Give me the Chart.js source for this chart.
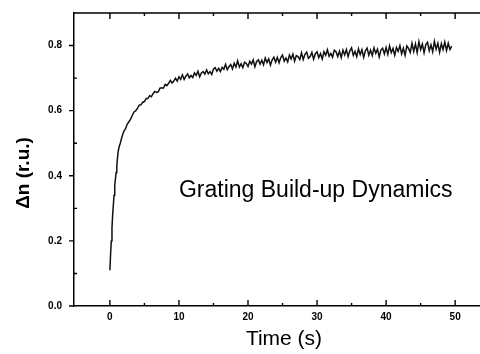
<!DOCTYPE html>
<html>
<head>
<meta charset="utf-8">
<script src="https://cdn.jsdelivr.net/npm/chart.js@4/dist/chart.umd.min.js"></script>
<style>
  html, body { margin: 0; padding: 0; background: #fff; }
  #wrap { width: 480px; height: 354px; }
</style>
</head>
<body>
<div id="wrap"><canvas id="growthChart"></canvas></div>
<script>
// time (s)
const times = [
  0, 0.1, 0.2, 0.3, 0.4, 0.5, 0.6, 0.7, 0.8, 0.9, 1.0, 1.1, 1.2, 1.35, 1.5, 1.75,
  2.0, 2.25, 2.5, 2.75, 3.0, 3.25, 3.5, 3.75, 4.0, 4.25, 4.5, 4.75,
  5.0, 5.25, 5.5, 5.75, 6.0, 6.25, 6.5, 6.75, 7.0, 7.25, 7.5, 7.75,
  8.0, 8.25, 8.5, 8.75, 9.0, 9.25, 9.5, 9.75,
  10.0, 10.25, 10.5, 10.75, 11.0, 11.25, 11.5, 11.75,
  12.0, 12.25, 12.5, 12.75, 13.0, 13.25, 13.5, 13.75,
  14.0, 14.25, 14.5, 14.75, 15.0, 15.25, 15.5, 15.75,
  16.0, 16.25, 16.5, 16.75, 17.0, 17.25, 17.5, 17.75,
  18.0, 18.25, 18.5, 18.75, 19.0, 19.25, 19.5, 19.75,
  20.0, 20.25, 20.5, 20.75, 21.0, 21.25, 21.5, 21.75,
  22.0, 22.25, 22.5, 22.75, 23.0, 23.25, 23.5, 23.75,
  24.0, 24.25, 24.5, 24.75, 25.0, 25.25, 25.5, 25.75,
  26.0, 26.25, 26.5, 26.75, 27.0, 27.25, 27.5, 27.75,
  28.0, 28.25, 28.5, 28.75, 29.0, 29.25, 29.5, 29.75,
  30.0, 30.25, 30.5, 30.75, 31.0, 31.25, 31.5, 31.75,
  32.0, 32.25, 32.5, 32.75, 33.0, 33.25, 33.5, 33.75,
  34.0, 34.25, 34.5, 34.75, 35.0, 35.25, 35.5, 35.75,
  36.0, 36.25, 36.5, 36.75, 37.0, 37.25, 37.5, 37.75,
  38.0, 38.25, 38.5, 38.75, 39.0, 39.25, 39.5, 39.75,
  40.0, 40.25, 40.5, 40.75, 41.0, 41.25, 41.5, 41.75,
  42.0, 42.25, 42.5, 42.75, 43.0, 43.25, 43.5, 43.75,
  44.0, 44.25, 44.5, 44.75, 45.0, 45.25, 45.5, 45.75,
  46.0, 46.25, 46.5, 46.75, 47.0, 47.25, 47.5, 47.75,
  48.0, 48.25, 48.5, 48.75, 49.0, 49.25, 49.5
];

// delta n (r.u.)
const deltaN = [
  0.11, 0.16, 0.20, 0.24, 0.28, 0.31, 0.34, 0.37, 0.39, 0.41, 0.43, 0.455, 0.475, 0.49, 0.50, 0.52,
  0.536, 0.544, 0.558, 0.566, 0.574, 0.586, 0.596, 0.600, 0.608, 0.617, 0.618, 0.626,
  0.628, 0.637, 0.637, 0.646, 0.643, 0.652, 0.659, 0.656, 0.658, 0.669, 0.670, 0.669,
  0.681, 0.677, 0.684, 0.693, 0.685, 0.691, 0.700, 0.691,
  0.704, 0.696, 0.710, 0.696, 0.706, 0.713, 0.701, 0.708,
  0.702, 0.716, 0.708, 0.721, 0.704, 0.716, 0.720, 0.712,
  0.725, 0.713, 0.720, 0.711, 0.728, 0.732, 0.721, 0.730,
  0.720, 0.733, 0.727, 0.742, 0.726, 0.735, 0.742, 0.728,
  0.746, 0.734, 0.753, 0.734, 0.744, 0.732, 0.749, 0.745,
  0.736, 0.752, 0.743, 0.756, 0.735, 0.751, 0.756, 0.743,
  0.755, 0.741, 0.762, 0.748, 0.759, 0.740, 0.756, 0.764,
  0.749, 0.764, 0.747, 0.763, 0.771, 0.752, 0.762, 0.750,
  0.771, 0.759, 0.774, 0.752, 0.769, 0.766, 0.757, 0.778,
  0.757, 0.773, 0.780, 0.761, 0.766, 0.779, 0.758, 0.775,
  0.781, 0.763, 0.775, 0.759, 0.781, 0.770, 0.787, 0.767,
  0.776, 0.764, 0.786, 0.781, 0.766, 0.783, 0.763, 0.786,
  0.771, 0.788, 0.766, 0.784, 0.793, 0.770, 0.782, 0.766,
  0.790, 0.772, 0.787, 0.764, 0.784, 0.792, 0.770, 0.786,
  0.769, 0.793, 0.776, 0.789, 0.765, 0.786, 0.792, 0.774,
  0.794, 0.773, 0.799, 0.778, 0.791, 0.770, 0.794, 0.782,
  0.800, 0.774, 0.792, 0.770, 0.799, 0.791, 0.779, 0.807,
  0.782, 0.805, 0.778, 0.812, 0.788, 0.805, 0.778, 0.803,
  0.810, 0.784, 0.802, 0.781, 0.813, 0.789, 0.807, 0.779,
  0.806, 0.788, 0.811, 0.785, 0.807, 0.788, 0.798
];

const xTicks = [0, 5, 10, 15, 20, 25, 30, 35, 40, 45, 50];
const xLabels = ["0", "", "10", "", "20", "", "30", "", "40", "", "50"];
const yTicks = [0, 0.1, 0.2, 0.3, 0.4, 0.5, 0.6, 0.7, 0.8];
const yLabels = ["0.0", "", "0.2", "", "0.4", "", "0.6", "", "0.8"];
const xTitle = "Time (s)";
const yTitle = "Δn (r.u.)";
const annotationText = "Grating Build-up Dynamics";

const points = times.map((t, i) => ({ x: t, y: deltaN[i] }));

const FONT = '"Liberation Sans", Arial, sans-serif';

// tick marks, top frame line, axis titles and the caption
const frameTicks = {
  id: "frameTicks",
  afterDatasetsDraw(chart) {
    const { ctx, chartArea: a, scales } = chart;
    const x = scales.x;
    const y = scales.y;
    ctx.save();
    ctx.strokeStyle = "#000";
    ctx.lineWidth = 1.4;
    ctx.beginPath();
    ctx.moveTo(a.left, a.top);
    ctx.lineTo(a.right, a.top);
    x.ticks.forEach((t, i) => {
      const px = x.getPixelForValue(t.value);
      const len = xLabels[i] ? 6 : 3;
      ctx.moveTo(px, a.bottom);
      ctx.lineTo(px, a.bottom - len);
      ctx.moveTo(px, a.top);
      ctx.lineTo(px, a.top + len);
    });
    y.ticks.forEach((t, i) => {
      const py = y.getPixelForValue(t.value);
      ctx.moveTo(a.left, py);
      ctx.lineTo(yLabels[i] ? a.left - 5 : a.left + 3, py);
    });
    ctx.stroke();

    ctx.fillStyle = "#000";
    ctx.textBaseline = "alphabetic";
    ctx.textAlign = "left";
    ctx.font = "23px " + FONT;
    ctx.fillText(annotationText, x.getPixelForValue(10), y.getPixelForValue(0.335));

    // axis titles
    ctx.textAlign = "center";
    ctx.textBaseline = "middle";
    ctx.font = "21px " + FONT;
    ctx.fillText(xTitle, 284, 339);
    ctx.save();
    ctx.translate(24, 173);
    ctx.rotate(-Math.PI / 2);
    ctx.font = "bold 19px " + FONT;
    ctx.fillText(yTitle, 0, 0);
    ctx.restore();
    ctx.restore();
  }
};

const tickFont = { family: FONT, size: 10, weight: "bold" };

new Chart(document.getElementById("growthChart"), {
  type: "line",
  data: {
    datasets: [{
      data: points,
      borderColor: "#111",
      borderWidth: 1.5,
      pointRadius: 0,
      tension: 0,
      fill: false
    }]
  },
  options: {
    responsive: true,
    maintainAspectRatio: false,
    animation: false,
    layout: { padding: { top: 13, left: 0, right: 0, bottom: 0 } },
    plugins: { legend: { display: false }, tooltip: { enabled: false } },
    scales: {
      x: {
        type: "linear",
        min: -5.2,
        max: 53.6,
        afterBuildTicks: (s) => { s.ticks = xTicks.map((v) => ({ value: v })); },
        afterFit: (s) => { s.height = 48; s.paddingLeft = 0; s.paddingRight = 0; },
        ticks: {
          color: "#000",
          font: tickFont,
          padding: 5,
          maxRotation: 0,
          autoSkip: false,
          callback: (v, i) => xLabels[i]
        },
        grid: { display: true, drawOnChartArea: false, drawTicks: false },
        border: { display: true, color: "#000", width: 1.5 }
      },
      y: {
        min: 0,
        max: 0.9,
        afterBuildTicks: (s) => { s.ticks = yTicks.map((v) => ({ value: v })); },
        afterFit: (s) => { s.width = 74; s.paddingTop = 0; s.paddingBottom = 0; },
        ticks: {
          color: "#000",
          font: tickFont,
          padding: 12,
          autoSkip: false,
          callback: (v, i) => yLabels[i]
        },
        grid: { display: true, drawOnChartArea: false, drawTicks: false },
        border: { display: true, color: "#000", width: 1.5 }
      }
    }
  },
  plugins: [frameTicks]
});
</script>
</body>
</html>
